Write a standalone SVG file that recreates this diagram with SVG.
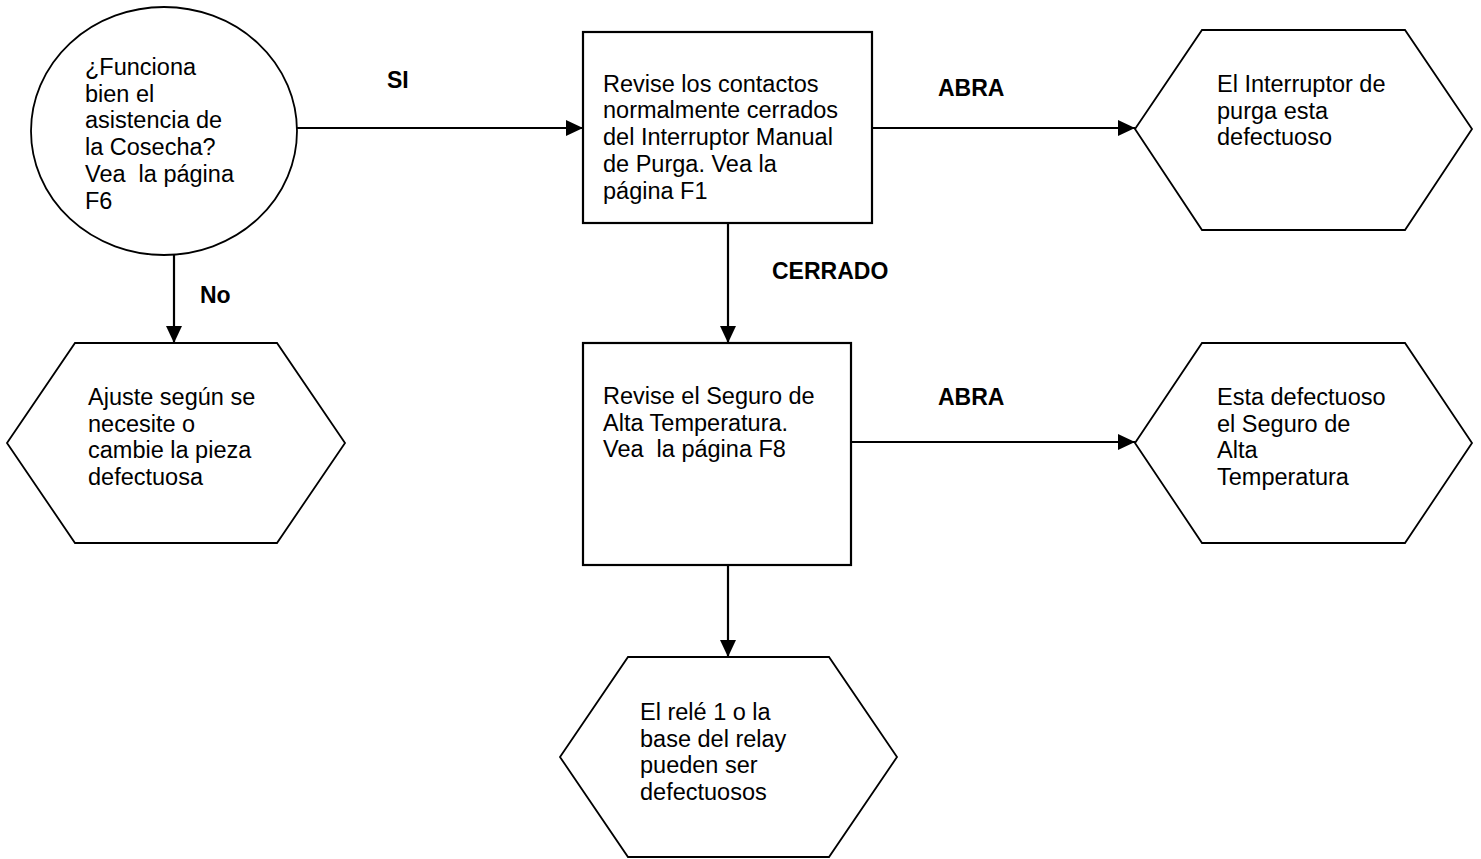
<svg xmlns="http://www.w3.org/2000/svg" width="1481" height="859" viewBox="0 0 1481 859">
<style>
.shape{fill:#fff;stroke:#000;stroke-width:1.8}
.box{fill:#fff;stroke:#000;stroke-width:2.2}
.t{font-family:"Liberation Sans",Arial,sans-serif;font-size:23.5px;fill:#000;white-space:pre}
.lb{font-family:"Liberation Sans",Arial,sans-serif;font-size:23px;font-weight:bold;fill:#000}
.c{fill:none;stroke:#000;stroke-width:2.2}
</style>
<defs>
<marker id="arr" markerWidth="17" markerHeight="16" refX="17" refY="8" orient="auto" markerUnits="userSpaceOnUse">
<path d="M0,0 L17,8 L0,16 Z" fill="#000"/>
</marker>
</defs>
<rect width="1481" height="859" fill="#fff"/>
<g id="connectors">
<line class="c" x1="297" y1="128" x2="583" y2="128" marker-end="url(#arr)"/>
<line class="c" x1="872" y1="128" x2="1135" y2="128" marker-end="url(#arr)"/>
<line class="c" x1="728" y1="223" x2="728" y2="343" marker-end="url(#arr)"/>
<line class="c" x1="851" y1="442" x2="1135" y2="442" marker-end="url(#arr)"/>
<line class="c" x1="174" y1="255" x2="174" y2="343" marker-end="url(#arr)"/>
<line class="c" x1="728" y1="565" x2="728" y2="657" marker-end="url(#arr)"/>
<text class="lb" x="387" y="88">SI</text>
<text class="lb" x="938" y="96">ABRA</text>
<text class="lb" x="772" y="279">CERRADO</text>
<text class="lb" x="938" y="405">ABRA</text>
<text class="lb" x="200" y="303">No</text>
</g>
<g id="start">
<ellipse class="shape" cx="164" cy="131" rx="133" ry="124"/>
<text class="t" xml:space="preserve"><tspan x="85" y="75">¿Funciona</tspan><tspan x="85" y="101.7">bien el</tspan><tspan x="85" y="128.4">asistencia de</tspan><tspan x="85" y="155.1">la Cosecha?</tspan><tspan x="85" y="181.8">Vea  la página</tspan><tspan x="85" y="208.5">F6</tspan></text>
</g>
<g id="check1">
<rect class="box" x="583" y="32" width="289" height="191"/>
<text class="t"><tspan x="603" y="91.7">Revise los contactos</tspan><tspan x="603" y="118.4">normalmente cerrados</tspan><tspan x="603" y="145.1">del Interruptor Manual</tspan><tspan x="603" y="171.8">de Purga. Vea la</tspan><tspan x="603" y="198.5">página F1</tspan></text>
</g>
<g id="result1">
<polygon class="shape" points="1135,129 1202,30 1405,30 1472,129 1405,230 1202,230"/>
<text class="t"><tspan x="1217" y="92">El Interruptor de</tspan><tspan x="1217" y="118.7">purga esta</tspan><tspan x="1217" y="145.4">defectuoso</tspan></text>
</g>
<g id="adjust">
<polygon class="shape" points="7,443 75,343 277,343 345,443 277,543 75,543"/>
<text class="t"><tspan x="88" y="405">Ajuste según se</tspan><tspan x="88" y="431.7">necesite o</tspan><tspan x="88" y="458.4">cambie la pieza</tspan><tspan x="88" y="485.1">defectuosa</tspan></text>
</g>
<g id="check2">
<rect class="box" x="583" y="343" width="268" height="222"/>
<text class="t" xml:space="preserve"><tspan x="603" y="404">Revise el Seguro de</tspan><tspan x="603" y="430.7">Alta Temperatura.</tspan><tspan x="603" y="457.4">Vea  la página F8</tspan></text>
</g>
<g id="result2">
<polygon class="shape" points="1135,443 1202,343 1405,343 1472,443 1405,543 1202,543"/>
<text class="t"><tspan x="1217" y="405">Esta defectuoso</tspan><tspan x="1217" y="431.7">el Seguro de</tspan><tspan x="1217" y="458.4">Alta</tspan><tspan x="1217" y="485.1">Temperatura</tspan></text>
</g>
<g id="result3">
<polygon class="shape" points="560,757 628,657 829,657 897,757 829,857 628,857"/>
<text class="t"><tspan x="640" y="720">El relé 1 o la</tspan><tspan x="640" y="746.7">base del relay</tspan><tspan x="640" y="773.4">pueden ser</tspan><tspan x="640" y="800.1">defectuosos</tspan></text>
</g>
</svg>
